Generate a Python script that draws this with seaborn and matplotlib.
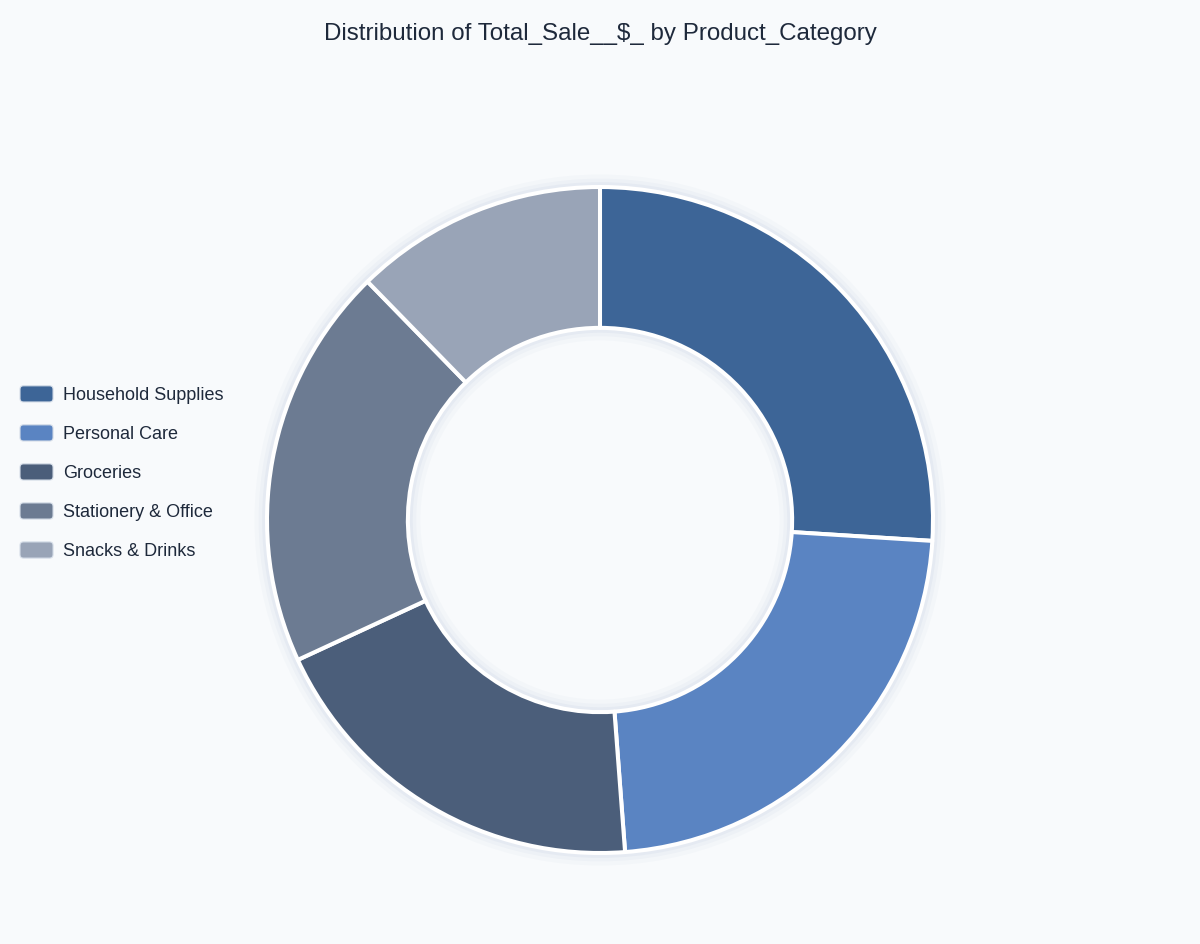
import matplotlib
matplotlib.use("Agg")
import matplotlib.pyplot as plt
import seaborn as sns
import pandas as pd
from matplotlib.patches import Patch, Circle, FancyBboxPatch
from matplotlib.legend_handler import HandlerPatch

# share of total sales per category
categories = ["Household Supplies", "Personal Care", "Groceries",
              "Stationery & Office", "Snacks & Drinks"]
total_sale = [26.0, 22.8, 19.3, 19.6, 12.3]
colors = ["#3d6597", "#5a84c2", "#4b5e7a", "#6c7b92", "#99a4b7"]

df = pd.DataFrame({"Product_Category": categories, "Total_Sale__$_": total_sale})

sns.set_theme(style="white")
plt.rcParams["font.family"] = ["Liberation Sans", "DejaVu Sans"]

bg = "#f8fafc"
fig = plt.figure(figsize=(12, 9.44), dpi=100, facecolor=bg)
ax = fig.add_axes([0.2225, 0.0964, 0.555, 0.7055])
ax.set_facecolor(bg)
ax.axis("off")

# soft glow behind the ring
for lw, a in [(18, 0.05), (12, 0.07), (7, 0.10)]:
    for r in (1.0, 0.577):
        ax.add_patch(Circle((0, 0), r, fill=False, edgecolor="#9fb0cf",
                            linewidth=lw, alpha=a, clip_on=False))

wedges, _ = ax.pie(df["Total_Sale__$_"], colors=colors, startangle=90,
                   counterclock=False, radius=1.0,
                   wedgeprops=dict(width=0.423, edgecolor="white",
                                   linewidth=2.9, joinstyle="round"))
for w in wedges:
    w.set_clip_on(False)
ax.set_xlim(-1, 1)
ax.set_ylim(-1, 1)

fig.text(0.5, 1 - 34 / 944, "Distribution of Total_Sale__$_ by Product_Category",
         ha="center", va="center", fontsize=17.4, color="#1e293b")


def rounded_box(legend, orig_handle, xdescent, ydescent, width, height, fontsize):
    return FancyBboxPatch((-xdescent, -ydescent), width, height,
                          boxstyle="round,pad=0,rounding_size=2.5")


handles = [Patch(facecolor=c, edgecolor="#d5dde8", linewidth=0.8) for c in colors]
fig.legend(handles, categories, loc="center left",
           bbox_to_anchor=(20 / 1200, 1 - 473 / 944), frameon=False,
           fontsize=13, handlelength=1.83, handleheight=1.0,
           handletextpad=0.55, labelspacing=1.15, borderpad=0,
           borderaxespad=0, labelcolor="#1e293b",
           handler_map={Patch: HandlerPatch(patch_func=rounded_box)})

fig.savefig("out.png", dpi=100, facecolor=bg)
